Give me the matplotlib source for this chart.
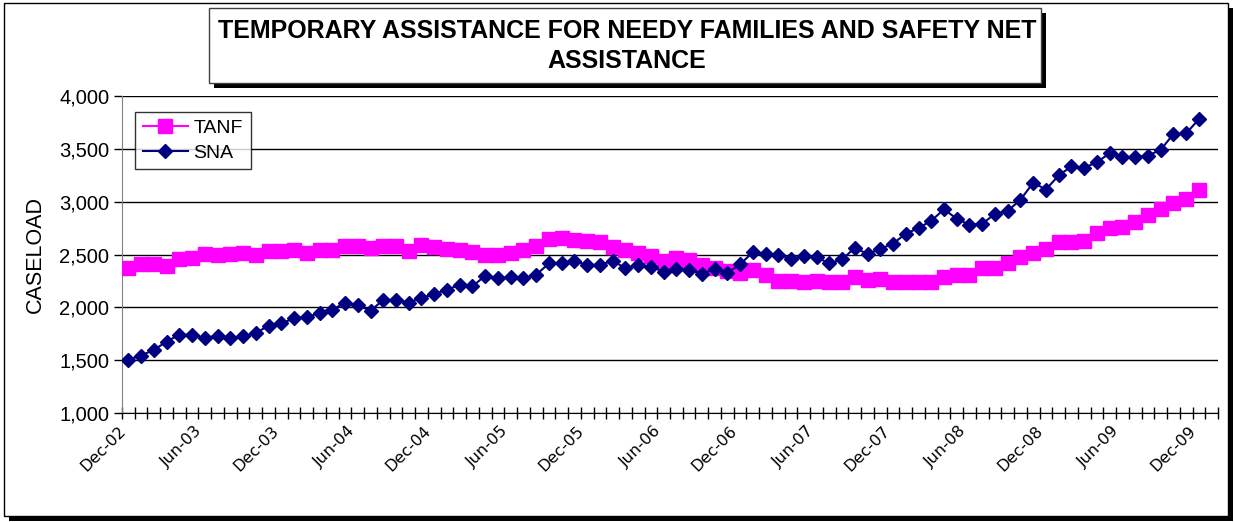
import numpy as np
import matplotlib
matplotlib.use("Agg")
import matplotlib.pyplot as plt
from matplotlib.patches import Rectangle
from matplotlib.ticker import FuncFormatter

plt.rcParams['font.family'] = ['Liberation Sans', 'DejaVu Sans']

# monthly caseloads, Dec-02 .. Dec-09 (85 months)
tanf = [2375, 2412, 2412, 2390, 2453, 2469, 2509, 2500, 2506, 2516,
        2500, 2531, 2531, 2547, 2516, 2538, 2547, 2585, 2585, 2563,
        2585, 2585, 2531, 2594, 2572, 2556, 2541, 2519, 2494, 2494,
        2513, 2541, 2582, 2644, 2654, 2638, 2629, 2619, 2575, 2541,
        2513, 2487, 2440, 2466, 2447, 2400, 2368, 2340, 2326, 2350,
        2303, 2250, 2250, 2244, 2247, 2241, 2244, 2288, 2259, 2266,
        2244, 2244, 2238, 2244, 2288, 2306, 2306, 2375, 2374, 2419,
        2472, 2515, 2552, 2622, 2622, 2632, 2701, 2748, 2757, 2810,
        2873, 2929, 2992, 3023, 3114]
sna = [1506, 1544, 1597, 1676, 1741, 1741, 1710, 1732, 1707, 1726,
       1757, 1826, 1848, 1895, 1911, 1942, 1976, 2045, 2020, 1967,
       2071, 2071, 2045, 2090, 2125, 2168, 2212, 2199, 2299, 2274,
       2290, 2274, 2309, 2415, 2415, 2440, 2400, 2403, 2440, 2371,
       2403, 2384, 2337, 2362, 2356, 2315, 2362, 2326, 2407, 2522,
       2506, 2491, 2462, 2484, 2475, 2416, 2453, 2563, 2506, 2553,
       2603, 2697, 2750, 2819, 2928, 2838, 2781, 2791, 2885, 2913,
       3018, 3180, 3115, 3249, 3333, 3321, 3374, 3458, 3427, 3421,
       3436, 3490, 3640, 3646, 3781]
tick_labels = ['Dec-02', 'Jun-03', 'Dec-03', 'Jun-04', 'Dec-04', 'Jun-05',
               'Dec-05', 'Jun-06', 'Dec-06', 'Jun-07', 'Dec-07', 'Jun-08',
               'Dec-08', 'Jun-09', 'Dec-09']
n_cats = 86

W, H = 1235, 522
fig = plt.figure(figsize=(W / 100, H / 100), dpi=100)

# chart area border with shadow (behind the axes)
fig.patches.append(Rectangle((9 / W, 1 - 521 / H), 1224 / W, 513 / H,
                             transform=fig.transFigure, facecolor='black',
                             edgecolor='none', zorder=-3))
fig.patches.append(Rectangle((4 / W, 1 - 516 / H), 1224 / W, 513 / H,
                             transform=fig.transFigure, facecolor='white',
                             edgecolor='black', lw=1, zorder=-2))

ax = fig.add_axes([122 / W, 1 - 413 / H, 1096 / W, 317 / H])
ax.patch.set_alpha(0)
x = np.arange(len(tanf))
ax.plot(x, tanf, color='#FF00FF', lw=1.5, marker='s', ms=9.5,
        mec='#FF00FF', mfc='#FF00FF', label='TANF', zorder=3)
ax.plot(x, sna, color='#000080', lw=1.5, marker='D', ms=7,
        mec='#000080', mfc='#000080', label='SNA', zorder=4)

ax.set_yticks(np.arange(1000, 4001, 500))
ax.yaxis.set_major_formatter(FuncFormatter(lambda v, p: f'{int(v):,}'))
ax.grid(axis='y', color='black', lw=1)
ax.set_axisbelow(True)

# labels every 6 months; bottom-anchored so they sit a little left of centre
ax.set_xticks(np.arange(0, len(tanf), 6))
ax.set_xticklabels(tick_labels, rotation=45, ha='right', va='bottom',
                   rotation_mode='anchor', fontsize=11.5,
                   family=['DejaVu Sans'])
ax.set_xticks(np.arange(-0.5, n_cats, 1), minor=True)
ax.set_xlim(-0.5, n_cats - 0.5)
ax.set_ylim(1000, 4000)
ax.tick_params(axis='x', which='major', length=0, pad=15)
ax.tick_params(axis='x', which='minor', direction='inout', length=8,
               width=1, color='black')
ax.tick_params(axis='y', direction='out', length=6, width=1,
               labelsize=14.5, pad=3)

for side in ['top', 'right']:
    ax.spines[side].set_visible(False)
ax.spines['left'].set_color('#808080')
ax.spines['bottom'].set_color('black')

ax.set_ylabel('CASELOAD', fontsize=15.5, labelpad=10)

leg = ax.legend(loc='upper left', bbox_to_anchor=(0.012, 0.95),
                fontsize=14, frameon=True, fancybox=False,
                edgecolor='black', handlelength=2.3, borderpad=0.4,
                labelspacing=0.35, handletextpad=0.3, borderaxespad=0)
leg.get_frame().set_linewidth(1)

# title box with shadow
fig.patches.append(Rectangle((214 / W, 1 - 88 / H), 832 / W, 75 / H,
                             transform=fig.transFigure, facecolor='black',
                             edgecolor='none', zorder=5))
fig.patches.append(Rectangle((209 / W, 1 - 83 / H), 832 / W, 75 / H,
                             transform=fig.transFigure, facecolor='white',
                             edgecolor='#404040', lw=1, zorder=6))
fig.text(627 / W, 1 - 46 / H,
         'TEMPORARY ASSISTANCE FOR NEEDY FAMILIES AND SAFETY NET\nASSISTANCE',
         ha='center', va='center', fontsize=18, fontweight='bold',
         linespacing=1.35, zorder=7)

fig.savefig('out.png', dpi=100)
